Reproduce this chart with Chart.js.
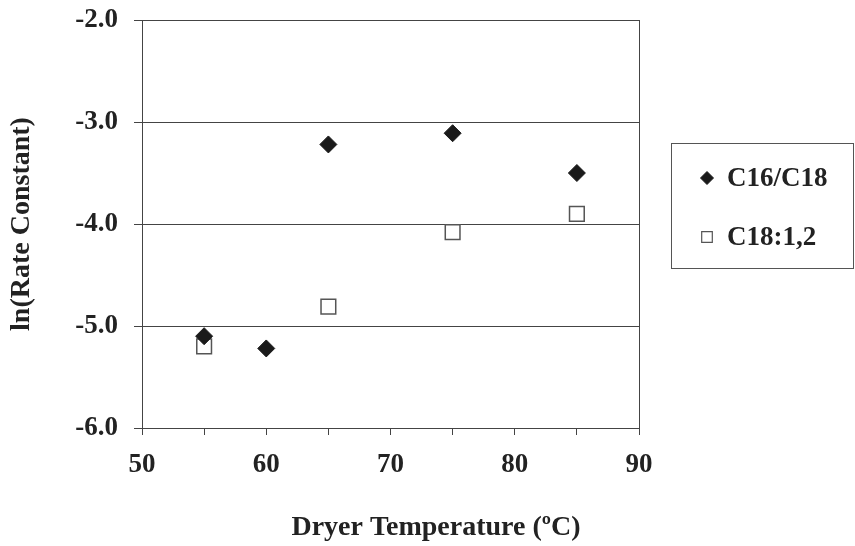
<!DOCTYPE html>
<html>
<head>
<meta charset="utf-8">
<script src="https://cdn.jsdelivr.net/npm/chart.js@4/dist/chart.umd.min.js"></script>
<style>
  html, body { margin: 0; padding: 0; background: #fff; }
  #box { width: 855px; height: 546px; }
</style>
</head>
<body>
<div id="box"><canvas id="grafico"></canvas></div>
<script>
var temperature = [55, 60, 65, 75, 85];
var c16c18 = [-5.10, -5.22, -3.22, -3.11, -3.50];
var tempC18 = [55, 65, 75, 85];
var c18_12 = [-5.20, -4.81, -4.08, -3.90];
var nomiSerie = ['C16/C18', 'C18:1,2'];
var titoloX = 'Dryer Temperature (\u00baC)';
var titoloY = 'ln(Rate Constant)';

var FONT = '"Liberation Serif", "Times New Roman", serif';
var LINEA = '#444';

function punti(xs, ys) {
    var out = [];
    for (var i = 0; i < xs.length; i++) {
        out.push({ x: xs[i], y: ys[i] });
    }
    return out;
}

// legend box, right frame line and x title
var extra = {
    id: 'extra',
    afterDraw: function (chart) {
        var ctx = chart.ctx;
        var area = chart.chartArea;
        ctx.save();
        ctx.strokeStyle = LINEA;
        ctx.lineWidth = 1;
        ctx.beginPath();
        ctx.moveTo(area.right + 0.5, area.top);
        ctx.lineTo(area.right + 0.5, area.bottom);
        ctx.stroke();

        var bx = area.right + 32, by = 143;
        ctx.strokeStyle = '#555';
        ctx.strokeRect(bx + 0.5, by + 0.5, 182, 125);

        ctx.font = 'bold 27px ' + FONT;
        ctx.fillStyle = '#222';
        ctx.textBaseline = 'middle';
        var righe = [178, 237];
        var stili = [
            { pointStyle: 'rectRot', radius: 6.5, backgroundColor: '#1a1a1a', borderColor: '#1a1a1a', borderWidth: 1 },
            { pointStyle: 'rect', radius: 7.5, backgroundColor: '#fff', borderColor: '#555', borderWidth: 1.2 }
        ];
        for (var i = 0; i < nomiSerie.length; i++) {
            ctx.fillStyle = stili[i].backgroundColor;
            ctx.strokeStyle = stili[i].borderColor;
            ctx.lineWidth = stili[i].borderWidth;
            Chart.helpers.drawPoint(ctx, stili[i], bx + 36, righe[i]);
            ctx.fillStyle = '#222';
            ctx.textAlign = 'left';
            ctx.fillText(nomiSerie[i], bx + 56, righe[i] + 1);
        }

        ctx.font = 'bold 28px ' + FONT;
        ctx.textAlign = 'center';
        ctx.fillText(titoloX, 436, 528);
        ctx.restore();
    }
};

var ctx = document.getElementById('grafico');
var grafico = new Chart(ctx, {
    type: 'scatter',
    data: {
        datasets: [{
            label: nomiSerie[0],
            data: punti(temperature, c16c18),
            pointStyle: 'rectRot',
            pointRadius: 8.5,
            backgroundColor: '#1a1a1a',
            borderColor: '#1a1a1a',
            borderWidth: 1
        }, {
            label: nomiSerie[1],
            data: punti(tempC18, c18_12),
            pointStyle: 'rect',
            pointRadius: 10.4,
            backgroundColor: '#fff',
            borderColor: '#555',
            borderWidth: 1.5
        }]
    },
    options: {
        responsive: true,
        maintainAspectRatio: false,
        animation: false,
        layout: { padding: { top: 20, right: 216, left: 0, bottom: 0 } },
        plugins: {
            legend: { display: false },
            tooltip: { enabled: false }
        },
        scales: {
            x: {
                type: 'linear',
                min: 50,
                max: 90,
                afterFit: function (scale) {
                    scale.height = 118;
                    scale.paddingLeft = 0;
                    scale.paddingRight = 0;
                },
                ticks: {
                    stepSize: 5,
                    autoSkip: false,
                    maxRotation: 0,
                    padding: 14,
                    color: '#222',
                    font: { family: FONT, size: 27, weight: 'bold' },
                    callback: function (v) { return v % 10 === 0 ? v : ''; }
                },
                grid: { drawOnChartArea: false, drawTicks: true, tickLength: 7, color: LINEA },
                border: { color: LINEA, width: 1 }
            },
            y: {
                min: -6,
                max: -2,
                afterFit: function (scale) {
                    scale.width = 142;
                    scale.paddingTop = 0;
                    scale.paddingBottom = 0;
                },
                ticks: {
                    stepSize: 1,
                    padding: 16,
                    color: '#222',
                    font: { family: FONT, size: 27, weight: 'bold' },
                    callback: function (v) { return v.toFixed(1); }
                },
                grid: { color: LINEA, tickLength: 8, lineWidth: 1 },
                border: { color: LINEA, width: 1 },
                title: {
                    display: true,
                    text: titoloY,
                    color: '#222',
                    padding: { top: 5, bottom: 0 },
                    font: { family: FONT, size: 28, weight: 'bold' }
                }
            }
        }
    },
    plugins: [extra]
});
</script>
</body>
</html>
